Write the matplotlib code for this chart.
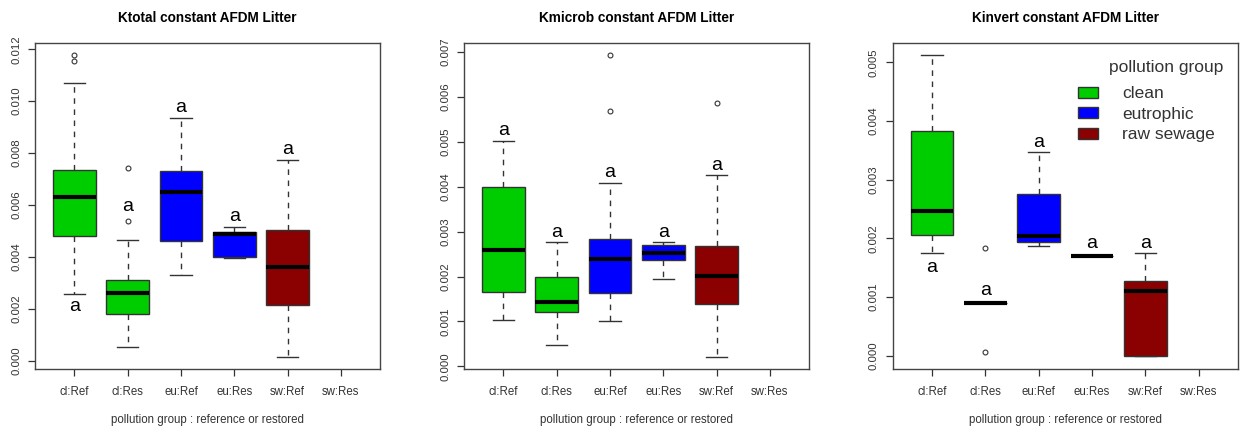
import matplotlib
matplotlib.use("Agg")
import matplotlib.pyplot as plt
from matplotlib.patches import Patch

plt.rcParams['font.family'] = ['Liberation Sans', 'DejaVu Sans']

# groups on the x axis (sw:Res has no data)
groups = ['cl:Ref', 'cl:Res', 'eu:Ref', 'eu:Res', 'sw:Ref', 'sw:Res']
group_fill = ['#00CD00', '#00CD00', '#0000FF', '#0000FF', '#8B0000', None]

# box statistics per panel: lower whisker, q1, median, q3, upper whisker
ktotal_whislo = [0.00257, 0.00053, 0.00329, 0.00396, 0.00013]
ktotal_q1 = [0.00482, 0.00179, 0.00460, 0.00401, 0.00213]
ktotal_med = [0.00630, 0.00260, 0.00651, 0.00487, 0.00362]
ktotal_q3 = [0.00736, 0.00312, 0.00731, 0.00495, 0.00502]
ktotal_whishi = [0.01069, 0.00466, 0.00935, 0.00516, 0.00772]
ktotal_fliers = [[0.01178, 0.01155], [0.00743, 0.00537], [], [], []]
ktotal_letter_y = [0.00190, 0.00576, 0.00960, 0.00540, 0.00797]

kmicrob_whislo = [0.00104, 0.00048, 0.00100, 0.00195, 0.00020]
kmicrob_q1 = [0.00166, 0.00122, 0.00163, 0.00236, 0.00139]
kmicrob_med = [0.00258, 0.00143, 0.00240, 0.00253, 0.00201]
kmicrob_q3 = [0.00400, 0.00200, 0.00284, 0.00270, 0.00269]
kmicrob_whishi = [0.00502, 0.00276, 0.00408, 0.00277, 0.00425]
kmicrob_fliers = [[], [], [0.00693, 0.00569], [], [0.00586]]
kmicrob_letter_y = [0.00515, 0.00289, 0.00422, 0.00289, 0.00437]

kinvert_whislo = [0.00174, 0.00089, 0.00186, 0.00169, 0.0]
kinvert_q1 = [0.00205, 0.00089, 0.00194, 0.00169, 0.0]
kinvert_med = [0.00246, 0.00089, 0.00204, 0.00169, 0.00110]
kinvert_q3 = [0.00383, 0.00089, 0.00276, 0.00169, 0.00127]
kinvert_whishi = [0.00512, 0.00089, 0.00347, 0.00169, 0.00174]
kinvert_fliers = [[], [0.00183, 0.00006], [], [], []]
kinvert_letter_y = [0.00143, 0.00103, 0.00356, 0.00183, 0.00183]

letters = ['a', 'a', 'a', 'a', 'a']

legend_labels = ['clean', 'eutrophic', 'raw sewage']
legend_colors = ['#00CD00', '#0000FF', '#8B0000']

panels = [
    ('Ktotal constant AFDM Litter', ktotal_whislo, ktotal_q1, ktotal_med, ktotal_q3,
     ktotal_whishi, ktotal_fliers, ktotal_letter_y, (-0.00032, 0.01224),
     [0.000, 0.002, 0.004, 0.006, 0.008, 0.010, 0.012]),
    ('Kmicrob constant AFDM Litter', kmicrob_whislo, kmicrob_q1, kmicrob_med, kmicrob_q3,
     kmicrob_whishi, kmicrob_fliers, kmicrob_letter_y, (-0.00006, 0.00720),
     [0.000, 0.001, 0.002, 0.003, 0.004, 0.005, 0.006, 0.007]),
    ('Kinvert constant AFDM Litter', kinvert_whislo, kinvert_q1, kinvert_med, kinvert_q3,
     kinvert_whishi, kinvert_fliers, kinvert_letter_y, (-0.00023, 0.00533),
     [0.000, 0.001, 0.002, 0.003, 0.004, 0.005]),
]

lefts = [0.0282, 0.3742, 0.7199]
width = 0.2785
bottom = 0.1458
height = 0.7547
grey = '#333333'

fig = plt.figure(figsize=(12.4, 4.32), dpi=100)
axes_list = []

for i, (title, wlo, q1, med, q3, whi, fl, ly, ylim, yticks) in enumerate(panels):
    ax = fig.add_axes([lefts[i], bottom, width, height])
    axes_list.append(ax)

    stats = []
    for j in range(len(med)):
        stats.append(dict(whislo=wlo[j], q1=q1[j], med=med[j], q3=q3[j],
                          whishi=whi[j], fliers=fl[j]))

    bp = ax.bxp(stats, positions=range(1, len(med) + 1), widths=0.8,
                patch_artist=True, showfliers=True,
                boxprops=dict(edgecolor=grey, linewidth=1.0),
                medianprops=dict(color='black', linewidth=3.0, solid_capstyle='butt'),
                whiskerprops=dict(color=grey, linewidth=1.0, linestyle=(0, (4, 4))),
                capprops=dict(color=grey, linewidth=1.0),
                capwidths=0.4,
                flierprops=dict(marker='o', markersize=3.5, markerfacecolor='none',
                                markeredgecolor=grey, markeredgewidth=0.8))
    for patch, col in zip(bp['boxes'], group_fill):
        patch.set_facecolor(col)

    # significance letters
    for j, (lab, yv) in enumerate(zip(letters, ly)):
        ax.text(j + 1, yv, lab, ha='center', va='baseline', fontsize=14, color='black')

    ax.set_xlim(0.26, 6.74)
    ax.set_ylim(*ylim)
    ax.set_xticks(range(1, len(groups) + 1))
    ax.set_xticklabels(groups, fontsize=8.3, color=grey)
    ax.set_yticks(yticks)
    ax.set_yticklabels(['%.3f' % t for t in yticks], fontsize=8.2, color=grey,
                       rotation=90, va='center')
    ax.tick_params(axis='both', length=5, width=0.9, color=grey, direction='out')
    ax.tick_params(axis='x', pad=7)
    ax.tick_params(axis='y', pad=5)
    for sp in ax.spines.values():
        sp.set_color('#444444')
        sp.set_linewidth(1.0)

    ax.set_title(title, fontsize=9.8, fontweight='bold', pad=15)
    ax.set_xlabel('pollution group : reference or restored', fontsize=8.3,
                  color=grey, labelpad=12)

# legend in the last panel, with its heading as a separate text
ax3 = axes_list[2]
handles = [Patch(facecolor=c, edgecolor=grey, label=l)
           for c, l in zip(legend_colors, legend_labels)]
leg = ax3.legend(handles=handles, loc='upper left', bbox_to_anchor=(0.538, 0.867),
                 frameon=False, fontsize=12.5, handlelength=1.15, handleheight=0.6,
                 handletextpad=1.35, labelspacing=0.32, borderpad=0, borderaxespad=0)
for t in leg.get_texts():
    t.set_color(grey)
ax3.text(0.958, 0.924, 'pollution group', transform=ax3.transAxes, ha='right',
         va='center', fontsize=12.5, color=grey)

fig.savefig('out.png', dpi=100)
